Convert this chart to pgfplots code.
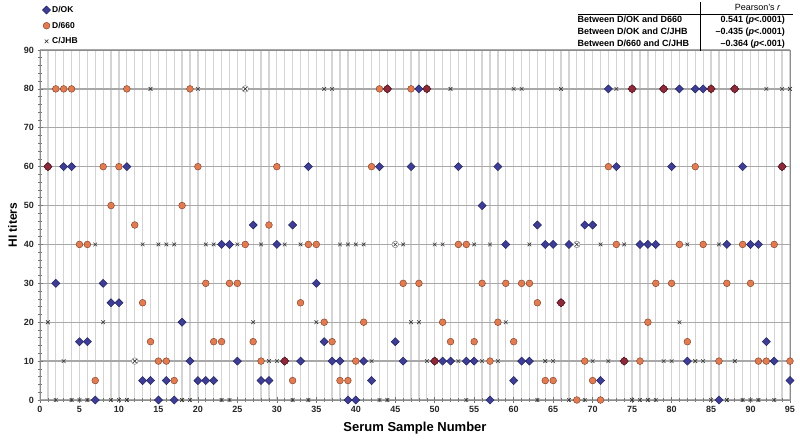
\documentclass[border=0pt]{standalone}
\usepackage{fontspec}
\setmainfont{Liberation Sans}
\usepackage{pgfplots}
\pgfplotsset{compat=1.18}
\usepackage{array}
\definecolor{dokblue}{HTML}{3D3D96}
\definecolor{dokedge}{HTML}{1E1E55}
\definecolor{dorange}{HTML}{E07B52}
\definecolor{doredge}{HTML}{7A3A22}
\definecolor{ovred}{HTML}{8C2A3A}
\definecolor{gridv}{HTML}{D4D4D4}
\definecolor{gridh}{HTML}{A8A8A8}
\begin{document}
\begin{tikzpicture}
\useasboundingbox (0,0) rectangle (800pt,439pt);
\begin{axis}[
  at={(40pt,39pt)}, anchor=south west, scale only axis,
  width=750pt, height=350pt,
  xmin=0, xmax=95, ymin=0, ymax=90,
  xtick={0,5,...,95}, ytick={0,10,...,90},
  minor x tick num=4, minor y tick num=4,
  xmajorgrids, xminorgrids, ymajorgrids,
  major x grid style={gridv, line width=1.3pt},
  minor x grid style={gridv, line width=1.3pt},
  major y grid style={gridh, line width=1.3pt},
  tick pos=left, tick align=center,
  major tick length=5pt, minor tick length=4pt,
  every tick/.style={black!55, line width=0.6pt},
  axis line style={black!45, line width=0.9pt},
  tick label style={font=\bfseries\fontsize{9}{10}\selectfont, text=black!85},
  /pgf/number format/assume math mode=true,
  xlabel={Serum Sample Number}, ylabel={HI titers},
  xlabel style={font=\bfseries\fontsize{13}{14}\selectfont, at={(axis description cs:0.5,-0.08)}, anchor=center},
  ylabel style={font=\bfseries\fontsize{12}{14}\selectfont, at={(axis description cs:-0.0367,0.5)}, anchor=center},
  clip=false,
  legend cell align=left,
  legend style={at={(axis description cs:0.003,1.13)}, anchor=north west, draw=none, fill=none,
    font=\bfseries\fontsize{8.5}{9.5}\selectfont, row sep=5pt, inner sep=0pt, nodes={inner sep=1.5pt}},
  legend image code/.code={\draw[mark repeat=1,#1] plot coordinates {(0pt,0pt)};},
]
% D/OK
\addplot[only marks, mark=square*, mark size=2.9pt, mark options={rotate=45, fill=dokblue, draw=dokedge, line width=0.4pt}]
coordinates {(1,60)(2,30)(3,60)(4,60)(5,15)(6,15)(7,0)(8,30)(9,25)(10,25)(11,60)(13,5)(14,5)(15,0)(16,5)(17,0)(18,20)(19,10)(20,5)(21,5)(22,5)(23,40)(24,40)(25,10)(27,45)(28,5)(29,5)(30,40)(31,10)(32,45)(33,10)(34,60)(35,30)(36,15)(37,10)(38,10)(39,0)(40,0)(41,10)(42,5)(43,60)(44,80)(45,15)(46,10)(47,60)(48,80)(49,80)(50,10)(51,10)(52,10)(53,60)(54,10)(55,10)(56,50)(57,0)(58,60)(59,40)(60,5)(61,10)(62,10)(63,45)(64,40)(65,40)(66,25)(67,40)(69,45)(70,45)(71,5)(72,80)(73,60)(74,10)(75,80)(76,40)(77,40)(78,40)(79,80)(80,60)(81,80)(82,10)(83,80)(84,80)(85,80)(86,0)(87,40)(88,80)(89,60)(90,40)(91,40)(92,15)(93,10)(94,60)(95,5)};
\addlegendentry{D/OK}
% D/660
\addplot[only marks, mark=*, mark size=3.4pt, mark options={fill=dorange, draw=doredge, line width=0.4pt}]
coordinates {(1,60)(2,80)(3,80)(4,80)(5,40)(6,40)(7,5)(8,60)(9,50)(10,60)(11,80)(12,45)(13,25)(14,15)(15,10)(16,10)(17,5)(18,50)(19,80)(20,60)(21,30)(22,15)(23,15)(24,30)(25,30)(26,40)(27,15)(28,10)(29,45)(30,60)(31,10)(32,5)(33,25)(34,40)(35,40)(36,20)(37,15)(38,5)(39,5)(40,10)(41,20)(42,60)(43,80)(44,80)(46,30)(47,80)(48,30)(49,80)(50,10)(51,20)(52,15)(53,40)(54,40)(55,15)(56,30)(57,10)(58,20)(59,30)(60,15)(61,30)(62,30)(63,25)(64,5)(65,5)(66,25)(68,0)(69,10)(70,5)(71,0)(72,60)(73,40)(74,10)(75,80)(76,10)(77,20)(78,30)(79,80)(80,30)(81,40)(82,15)(83,60)(84,40)(85,80)(86,10)(87,30)(88,80)(89,40)(90,30)(91,10)(92,10)(93,40)(94,60)(95,10)};
\addlegendentry{D/660}
% overlap of D/OK and D/660
\addplot[forget plot, only marks, mark=square*, mark size=2.9pt, mark options={rotate=45, fill=ovred, draw=ovred!70!black, line width=0.4pt}]
coordinates {(1,60)(31,10)(44,80)(49,80)(50,10)(66,25)(74,10)(75,80)(79,80)(85,80)(88,80)(94,60)};
\addplot[forget plot, only marks, mark=*, mark size=3.4pt, mark options={fill=ovred, draw=ovred!60!black, line width=0.4pt}]
coordinates {(1,60)(31,10)(44,80)(49,80)(50,10)(66,25)(74,10)(75,80)(79,80)(85,80)(88,80)(94,60)};
% hollow grey circles
\addplot[forget plot, only marks, mark=*, mark size=3.3pt, mark options={fill=white, draw=black!50, line width=0.5pt}]
coordinates {(12,10)(26,80)(45,40)(68,40)};
% C/JHB
\addplot[only marks, mark=x, mark size=2.6pt, mark options={draw=black!80, line width=0.6pt}]
coordinates {(1,20)(2,0)(3,10)(4,0)(5,0)(6,0)(7,40)(8,20)(9,0)(10,0)(11,0)(12,10)(13,40)(14,80)(15,40)(16,40)(17,40)(18,0)(19,0)(20,80)(21,40)(22,40)(23,0)(24,0)(25,40)(26,80)(27,20)(28,40)(29,10)(30,10)(31,40)(32,0)(33,40)(34,0)(35,20)(36,80)(37,80)(38,40)(39,40)(40,40)(41,40)(42,10)(43,0)(44,0)(45,40)(46,40)(47,20)(48,20)(49,10)(50,40)(51,40)(52,80)(53,10)(54,0)(55,40)(56,10)(57,40)(58,10)(59,20)(60,80)(61,80)(62,40)(63,0)(64,10)(65,10)(66,80)(67,0)(68,40)(69,0)(70,10)(71,40)(72,10)(73,80)(74,40)(75,0)(76,0)(77,0)(78,0)(79,10)(80,10)(81,20)(82,40)(83,10)(84,10)(85,0)(86,40)(87,0)(88,10)(89,0)(90,0)(91,0)(92,80)(93,0)(94,80)(95,80)};
\addlegendentry{C/JHB}
\end{axis}
\node[anchor=north east, inner sep=0pt, font=\bfseries\fontsize{9}{12}\selectfont] at (793pt,437pt) {%
\setlength{\tabcolsep}{0pt}%
\begin{tabular}{l@{\hspace{11pt}}|@{\hspace{15pt}}r@{\hspace{8pt}}}
 & \multicolumn{1}{@{\hspace{15pt}}c@{\hspace{8pt}}}{\mdseries Pearson's \textit{r}}\\ \hline
Between D/OK and D660 & 0.541 (\textit{p}<.0001)\\
Between D/OK and C/JHB & –0.435 (\textit{p}<.0001)\\
Between D/660 and C/JHB & –0.364 (\textit{p}<.001)\\
\end{tabular}};
\end{tikzpicture}
\end{document}
